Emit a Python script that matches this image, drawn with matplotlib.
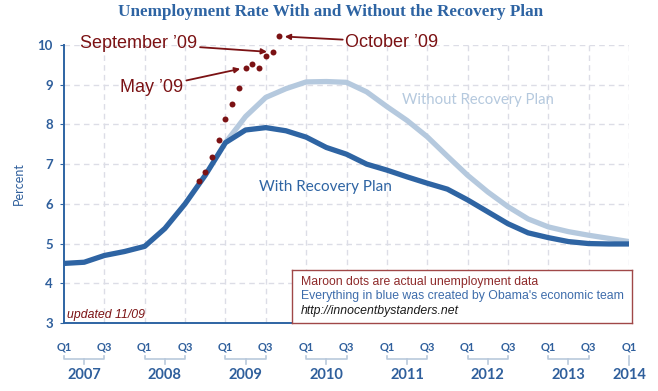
import numpy as np
import matplotlib
matplotlib.use('Agg')
from matplotlib import pyplot as plt
import matplotlib.transforms as mtransforms

# quarters since Q1 2007
quarters = list(range(29))
with_plan = [4.50, 4.53, 4.70, 4.80, 4.93, 5.38, 6.00, 6.72, 7.54, 7.86,
             7.92, 7.84, 7.68, 7.42, 7.25, 7.00, 6.85, 6.68, 6.52, 6.37,
             6.10, 5.80, 5.50, 5.27, 5.15, 5.05, 5.00, 4.99, 4.99]
without_q = list(range(8, 29))
without_plan = [7.54, 8.20, 8.68, 8.90, 9.07, 9.08, 9.06, 8.82, 8.45, 8.10,
                7.69, 7.20, 6.72, 6.30, 5.93, 5.62, 5.42, 5.30, 5.21, 5.13, 5.05]

# actual data, months since Jan 2007 as placed on the chart
actual_months = list(range(20, 33))
actual_rate = [6.58, 6.79, 7.19, 7.61, 8.13, 8.51, 8.91, 9.43, 9.53, 9.43,
               9.72, 9.82, 10.22]

years = ['2007', '2008', '2009', '2010', '2011', '2012', '2013', '2014']
q_labels = ['Q1', 'Q3']

DARK = '#2e64a3'
LIGHT = '#b5c9de'
MAROON = '#7b1214'
TICK = '#2f5f9c'

fig = plt.figure(figsize=(6.58, 3.91), dpi=100, facecolor='w')
ax = fig.add_axes([64 / 658, 1 - 323 / 391, 565 / 658, 278 / 391])

ax.set_xlim(0, 28)
ax.set_ylim(3, 10)

# grid
for y in range(4, 11):
    ax.plot([0, 28], [y, y], color='#dcdde6', lw=1, ls=(0, (4, 3)), zorder=0)
for q in range(2, 29, 2):
    ax.plot([q, q], [3, 10], color='#dcdde6', lw=1, ls=(0, (4, 3)), zorder=0)

ax.plot(without_q, without_plan, color=LIGHT, lw=3.8, solid_capstyle='butt', zorder=2)
ax.plot(quarters, with_plan, color=DARK, lw=3.8, solid_capstyle='butt', zorder=3)
ax.plot(np.array(actual_months) / 3.0, actual_rate, 'o', color=MAROON, ms=4.3,
        mec='none', zorder=4, clip_on=False)

for s in ['top', 'right']:
    ax.spines[s].set_visible(False)
ax.spines['left'].set_color(DARK)
ax.spines['bottom'].set_color(DARK)
ax.spines['left'].set_linewidth(1.4)
ax.spines['bottom'].set_linewidth(1.4)

ax.set_yticks(range(3, 11))
ax.set_yticklabels([str(v) for v in range(3, 11)], color=TICK, fontsize=9.5,
                   fontweight='bold', family='Lato')
ax.tick_params(axis='y', length=3, color=DARK, pad=5)
ax.set_ylabel('Percent', color=TICK, fontsize=9, family='Lato', labelpad=9)

ax.set_xticks(range(0, 29, 2))
ax.set_xticklabels([q_labels[i % 2] for i in range(15)], color=TICK, fontsize=8,
                   fontweight='bold', family='Lato')
ax.tick_params(axis='x', length=0, pad=13)

trans = mtransforms.blended_transform_factory(ax.transData, ax.transAxes)
y_br = -36 / 278
for i, yr in enumerate(years):
    q0 = 4 * i
    if i < len(years) - 1:
        ax.plot([q0, q0, q0 + 2, q0 + 2], [y_br + 3 / 278, y_br, y_br, y_br + 3 / 278],
                color='#b9c9dc', lw=1.2, transform=trans, clip_on=False)
        ax.plot([q0 + 1, q0 + 1], [y_br, y_br - 5 / 278], color='#b9c9dc', lw=1.2,
                transform=trans, clip_on=False)
        xc = q0 + 1
    else:
        ax.plot([q0, q0], [y_br + 3 / 278, y_br - 6 / 278], color='#b9c9dc', lw=1.2,
                transform=trans, clip_on=False)
        xc = q0
    ax.text(xc, -52 / 278, yr, transform=trans, ha='center', va='center',
            color=TICK, fontsize=10.5, fontweight='bold', family='Lato')

fig.text(331 / 658, 1 - 12 / 391, 'Unemployment Rate With and Without the Recovery Plan',
         ha='center', va='center', color=DARK, fontsize=12.3, fontweight='bold',
         family='Liberation Serif')

ax.text(12.95, 6.42, 'With Recovery Plan', color=DARK, fontsize=11, family='Lato',
        ha='center', va='center')
ax.text(20.5, 8.62, 'Without Recovery Plan', color=LIGHT, fontsize=10.7, family='Lato',
        ha='center', va='center')
ax.text(0.17, 3.2, 'updated 11/09', color=MAROON, fontsize=8.8, style='italic',
        family='Liberation Sans', ha='left', va='center')

# annotations
ann = dict(color=MAROON, fontsize=13, family='Liberation Sans', va='center')
arrow = dict(arrowstyle='-|>', color=MAROON, lw=1.3, mutation_scale=8, shrinkA=0, shrinkB=4)
ax.annotate('September \u201909', xy=(actual_months[11] / 3.0, actual_rate[11]),
            xytext=(0.8, 10.05), ha='left', arrowprops=arrow, annotation_clip=False, **ann)
ax.annotate('May \u201909', xy=(actual_months[7] / 3.0, actual_rate[7]),
            xytext=(2.8, 8.92), ha='left', arrowprops=arrow, annotation_clip=False, **ann)
ax.annotate('October \u201909', xy=(actual_months[12] / 3.0, actual_rate[12]),
            xytext=(13.95, 10.07), ha='left', arrowprops=arrow, annotation_clip=False, **ann)

# note box
bx = fig.add_axes([292 / 658, 1 - 323 / 391, 340 / 658, 53 / 391])
bx.set_xticks([])
bx.set_yticks([])
for s in bx.spines.values():
    s.set_color('#a04848')
    s.set_linewidth(1.0)
note = dict(fontsize=8.8, family='Liberation Sans', ha='left', va='center',
            transform=bx.transAxes)
bx.text(9 / 340, 1 - 12 / 53, 'Maroon dots are actual unemployment data', color='#8e2a2a', **note)
bx.text(9 / 340, 1 - 26 / 53, "Everything in blue was created by Obama's economic team",
        color='#3d6cab', **note)
bx.text(9 / 340, 1 - 41 / 53, 'http://innocentbystanders.net', color='#1a1a1a',
        style='italic', **note)

plt.savefig('out.png', dpi=100, facecolor='w')
